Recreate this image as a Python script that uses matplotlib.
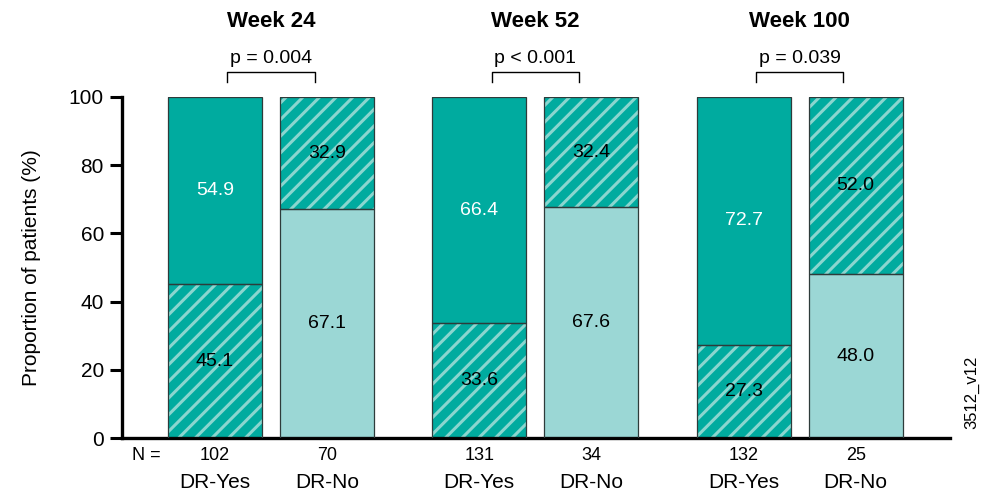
import matplotlib
matplotlib.use("Agg")
import matplotlib.pyplot as plt

plt.rcParams['font.family'] = ['Liberation Sans', 'DejaVu Sans']
plt.rcParams['hatch.linewidth'] = 2.2

# Data
weeks = ["Week 24", "Week 52", "Week 100"]
groups = ["DR-Yes", "DR-No"]
p_values = ["p = 0.004", "p < 0.001", "p = 0.039"]
n_yes = [102, 131, 132]
n_no = [70, 34, 25]
# DR-Yes: bottom hatched share, top solid share
yes_bottom = [45.1, 33.6, 27.3]
yes_top = [54.9, 66.4, 72.7]
# DR-No: bottom light share, top hatched share
no_bottom = [67.1, 67.6, 48.0]
no_top = [32.9, 32.4, 52.0]

DARK = "#00AB9F"
LIGHT = "#9BD7D5"
HATCH = "#8AD6CF"
EDGE = "#2E3B3A"

fig = plt.figure(figsize=(9.83, 4.95), dpi=100)
ax = fig.add_axes([122 / 983, 1 - 438 / 495, (950 - 122) / 983, (438 - 97) / 495])

group_gap = 2.36
width = 0.84


def seg(x, bottom, height, kind):
    if kind == "hatch":
        ax.bar(x, height, width, bottom=bottom, color=DARK, edgecolor=HATCH,
               hatch="//", linewidth=0, zorder=2)
    else:
        ax.bar(x, height, width, bottom=bottom,
               color=DARK if kind == "dark" else LIGHT, linewidth=0, zorder=2)
    ax.bar(x, height, width, bottom=bottom, fill=False, edgecolor=EDGE,
           linewidth=0.9, zorder=3)


for i, wk in enumerate(weeks):
    xy = i * group_gap
    xn = xy + 1
    seg(xy, 0, yes_bottom[i], "hatch")
    seg(xy, yes_bottom[i], yes_top[i], "dark")
    seg(xn, 0, no_bottom[i], "light")
    seg(xn, no_bottom[i], no_top[i], "hatch")

    ax.text(xy, yes_bottom[i] / 2, f"{yes_bottom[i]:.1f}", ha="center", va="center",
            fontsize=14, color="black", zorder=4)
    ax.text(xy, yes_bottom[i] + yes_top[i] / 2, f"{yes_top[i]:.1f}", ha="center",
            va="center", fontsize=14, color="white", zorder=4)
    ax.text(xn, no_bottom[i] / 2, f"{no_bottom[i]:.1f}", ha="center", va="center",
            fontsize=14, color="black", zorder=4)
    ax.text(xn, no_bottom[i] + no_top[i] / 2, f"{no_top[i]:.1f}", ha="center",
            va="center", fontsize=14, color="black", zorder=4)

    # N counts and group labels
    ax.text(xy, -5, str(n_yes[i]), ha="center", va="center", fontsize=13, clip_on=False)
    ax.text(xn, -5, str(n_no[i]), ha="center", va="center", fontsize=13, clip_on=False)
    ax.text(xy, -13.1, groups[0], ha="center", va="center", fontsize=15, clip_on=False)
    ax.text(xn, -13.1, groups[1], ha="center", va="center", fontsize=15, clip_on=False)

    # Significance bracket and title
    bx0, bx1 = xy + 0.11, xn - 0.11
    ax.plot([bx0, bx0, bx1, bx1], [104.3, 107.2, 107.2, 104.3], color="black",
            linewidth=1.0, clip_on=False)
    ax.text((xy + xn) / 2, 111.4, p_values[i], ha="center", va="center",
            fontsize=14, clip_on=False)
    ax.text((xy + xn) / 2, 122.2, wk, ha="center", va="center", fontsize=16,
            fontweight="bold", clip_on=False)

ax.text(-0.74, -5, "N =", ha="left", va="center", fontsize=13, clip_on=False)

ax.set_xlim(-0.83, 6.5625)
ax.set_ylim(0, 100)
ax.set_yticks([0, 20, 40, 60, 80, 100])
ax.set_xticks([])
ax.tick_params(axis="y", labelsize=15, width=2.2, length=9, pad=4)
ax.set_ylabel("Proportion of patients (%)", fontsize=15, labelpad=20)
for side in ("top", "right"):
    ax.spines[side].set_visible(False)
for side in ("left", "bottom"):
    ax.spines[side].set_linewidth(2.4)

fig.text(972 / 983, 1 - 392 / 495, "3512_v12", rotation=90, ha="center",
         va="center", fontsize=12)

fig.savefig("out.png", dpi=100)
